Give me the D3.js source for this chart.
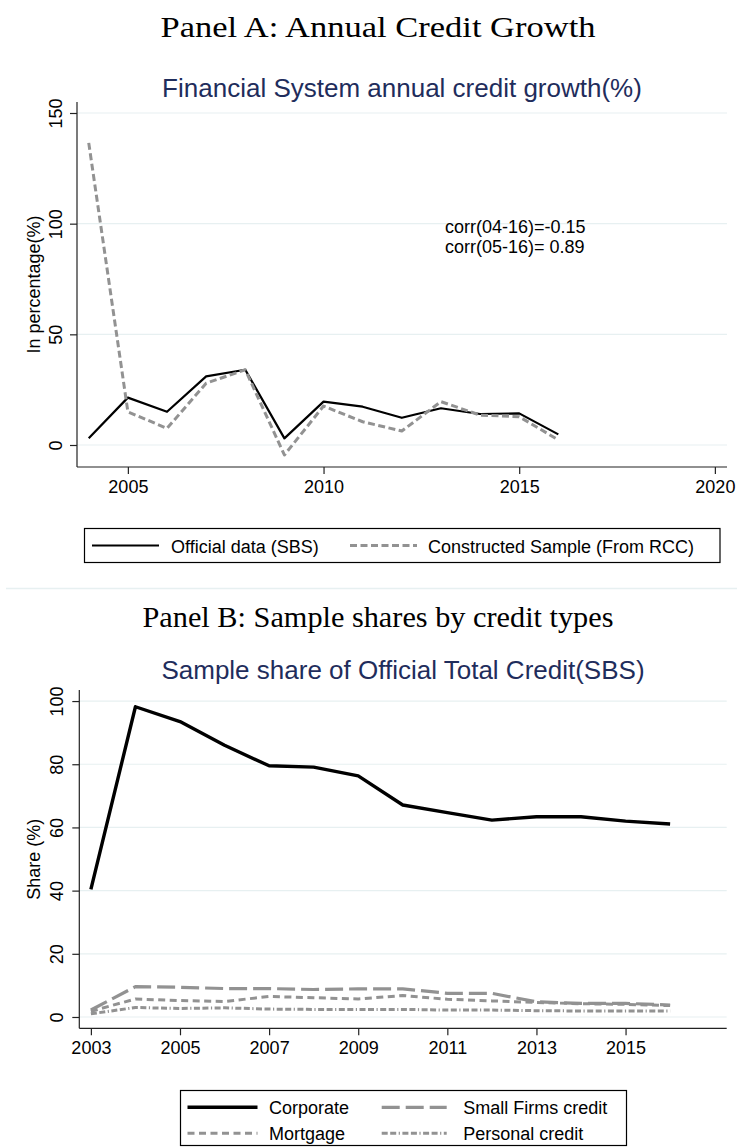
<!DOCTYPE html>
<html>
<head>
<meta charset="utf-8">
<script src="https://cdn.jsdelivr.net/npm/d3@7"></script>
<style>
  html, body { margin: 0; padding: 0; background: #fff; }
  svg { display: block; }
  text { font-family: "Liberation Sans", Arial, sans-serif; }
</style>
</head>
<body>
<svg id="chart" width="737" height="1147"></svg>
<script>
// ---------- Data ----------
const yearsA = [2004, 2005, 2006, 2007, 2008, 2009, 2010, 2011, 2012, 2013, 2014, 2015, 2016];
const officialSBS = [3.0, 21.4, 15.0, 31.0, 34.0, 3.0, 19.6, 17.3, 12.3, 16.6, 14.0, 14.3, 4.8];
const constructedRCC = [136.5, 15.0, 7.5, 27.9, 34.0, -4.5, 17.6, 10.5, 6.3, 19.6, 13.5, 12.8, 2.3];
const xTicksA = [2005, 2010, 2015, 2020];
const yTicksA = [0, 50, 100, 150];
const corrLines = ["corr(04-16)=-0.15", "corr(05-16)= 0.89"];

const yearsB = [2003, 2004, 2005, 2006, 2007, 2008, 2009, 2010, 2011, 2012, 2013, 2014, 2015, 2016];
const corporate = [40.4, 98.2, 93.5, 86.0, 79.5, 79.1, 76.3, 67.1, 64.7, 62.3, 63.4, 63.4, 62.0, 61.1];
const smallFirms = [2.2, 9.6, 9.4, 9.0, 9.0, 8.7, 8.9, 8.9, 7.5, 7.5, 4.8, 4.3, 4.3, 3.8];
const mortgage = [1.8, 5.7, 5.2, 4.9, 6.5, 6.1, 5.7, 6.8, 5.6, 5.1, 4.6, 4.2, 4.0, 3.6];
const personal = [1.0, 3.0, 2.7, 2.9, 2.5, 2.4, 2.4, 2.4, 2.2, 2.2, 2.0, 1.9, 1.9, 1.9];
const xTicksB = [2003, 2005, 2007, 2009, 2011, 2013, 2015];
const yTicksB = [0, 20, 40, 60, 80, 100];

// ---------- Styles ----------
const NAVY = "#1f2d5c";
const GRAY = "#929292";
const GRID = "#e7f0f1";
const AXIS = "#222";

const svg = d3.select("#chart");

// separator between panels
svg.append("line").attr("x1", 6).attr("x2", 737).attr("y1", 588.5).attr("y2", 588.5)
  .attr("stroke", GRID).attr("stroke-width", 1.5);

function panelTitle(text, y, width) {
  svg.append("text").attr("x", 378).attr("y", y)
    .attr("text-anchor", "middle")
    .style("font-family", "'Liberation Serif', 'DejaVu Serif', serif")
    .style("font-size", "30px").attr("fill", "#000")
    .attr("textLength", width).attr("lengthAdjust", "spacingAndGlyphs")
    .text(text);
}

function drawPanel(cfg) {
  const x = d3.scaleLinear().domain(cfg.xDomain).range([cfg.left, cfg.right]);
  const y = d3.scaleLinear().domain(cfg.yDomain).range([cfg.bottom, cfg.top]);
  const g = svg.append("g");

  // subtitle
  g.append("text").attr("x", (cfg.left + cfg.right) / 2).attr("y", cfg.subY)
    .attr("text-anchor", "middle").style("font-size", "26px").attr("fill", NAVY)
    .text(cfg.subtitle);

  // gridlines
  g.append("g").selectAll("line").data(cfg.yTicks).join("line")
    .attr("x1", cfg.left).attr("x2", cfg.right)
    .attr("y1", d => y(d)).attr("y2", d => y(d))
    .attr("stroke", GRID).attr("stroke-width", 1.2);

  // y axis
  const ya = g.append("g").attr("transform", `translate(${cfg.left},0)`)
    .call(d3.axisLeft(y).tickValues(cfg.yTicks).tickSize(7).tickFormat(d3.format("d")));
  ya.select(".domain").attr("d", `M0,${cfg.top}V${cfg.bottom}`).attr("stroke", AXIS).attr("stroke-width", 1.2);
  ya.selectAll(".tick line").attr("stroke", AXIS).attr("stroke-width", 1.2);
  ya.selectAll(".tick text")
    .attr("transform", "rotate(-90)").attr("x", 0).attr("y", cfg.yLabelOff).attr("dy", 0)
    .attr("text-anchor", "middle").style("font-size", "18px").attr("fill", "#000");

  // x axis
  const xa = g.append("g").attr("transform", `translate(0,${cfg.bottom})`)
    .call(d3.axisBottom(x).tickValues(cfg.xTicks).tickSize(7).tickFormat(d3.format("d")));
  xa.select(".domain").attr("d", `M${cfg.left},0H${cfg.right}`).attr("stroke", AXIS).attr("stroke-width", 1.2);
  xa.selectAll(".tick line").attr("stroke", AXIS).attr("stroke-width", 1.2);
  xa.selectAll(".tick text").attr("y", 25.5).attr("dy", 0)
    .style("font-size", "18px").attr("fill", "#000");

  // y axis title
  g.append("text")
    .attr("transform", `translate(40,${(cfg.top + cfg.bottom) / 2}) rotate(-90)`)
    .attr("text-anchor", "middle").style("font-size", "18px").attr("fill", "#000")
    .text(cfg.yTitle);

  // series
  const line = d3.line().x(d => x(d[0])).y(d => y(d[1]));
  cfg.series.forEach(s => {
    g.append("path").datum(cfg.years.map((yr, i) => [yr, s.values[i]]))
      .attr("d", line).attr("fill", "none")
      .attr("stroke", s.color).attr("stroke-width", s.width)
      .attr("stroke-dasharray", s.dash || null)
      .attr("stroke-linejoin", "round").attr("stroke-linecap", "butt");
  });
  return { x, y, g };
}

// ---------- Panel A ----------
panelTitle("Panel A: Annual Credit Growth", 37, 435);
const seriesA = [
  { name: "Official data (SBS)", values: officialSBS, color: "#000", width: 2.2, dash: null },
  { name: "Constructed Sample (From RCC)", values: constructedRCC, color: GRAY, width: 3, dash: "7,3.5" }
];
const pA = drawPanel({
  left: 77, right: 727, top: 102, bottom: 467,
  xDomain: [2003.70, 2020.31], yDomain: [-9.94, 154.97],
  xTicks: xTicksA, yTicks: yTicksA, years: yearsA, series: seriesA,
  subtitle: "Financial System annual credit growth(%)", subY: 97,
  yTitle: "In percentage(%)", yLabelOff: -15.5
});
pA.g.append("g").selectAll("text").data(corrLines).join("text")
  .attr("x", 445).attr("y", (d, i) => 232.5 + i * 20)
  .style("font-size", "18px").attr("fill", "#000").text(d => d);

// legend A
const legA = svg.append("g");
legA.append("rect").attr("x", 84.5).attr("y", 528.5).attr("width", 635.5).attr("height", 34)
  .attr("fill", "#fff").attr("stroke", "#000").attr("stroke-width", 1.2);
const legAItems = [
  { s: seriesA[0], x1: 92, x2: 159, tx: 171 },
  { s: seriesA[1], x1: 350, x2: 417, tx: 428 }
];
legAItems.forEach(it => {
  legA.append("line").attr("x1", it.x1).attr("x2", it.x2).attr("y1", 545.5).attr("y2", 545.5)
    .attr("stroke", it.s.color).attr("stroke-width", it.s.width).attr("stroke-dasharray", it.s.dash);
  legA.append("text").attr("x", it.tx).attr("y", 552.5).style("font-size", "18px").attr("fill", "#000").text(it.s.name);
});

// ---------- Panel B ----------
panelTitle("Panel B: Sample shares by credit types", 626.5, 471);
const seriesB = [
  { name: "Corporate", values: corporate, color: "#000", width: 3.4, dash: null },
  { name: "Small Firms credit", values: smallFirms, color: GRAY, width: 3.2, dash: "18,6" },
  { name: "Mortgage", values: mortgage, color: GRAY, width: 3, dash: "7,4.5" },
  { name: "Personal credit", values: personal, color: GRAY, width: 3, dash: "6,2.5,6,2.5,1.2,2.5" }
];
drawPanel({
  left: 79.3, right: 726.7, top: 690, bottom: 1028.3,
  xDomain: [2002.74, 2017.27], yDomain: [-3.58, 103.5],
  xTicks: xTicksB, yTicks: yTicksB, years: yearsB, series: seriesB,
  subtitle: "Sample share of Official Total Credit(SBS)", subY: 678.5,
  yTitle: "Share (%)", yLabelOff: -16
});

// legend B
const legB = svg.append("g");
legB.append("rect").attr("x", 180.5).attr("y", 1090.5).attr("width", 446).attr("height", 55)
  .attr("fill", "#fff").attr("stroke", "#000").attr("stroke-width", 1.2);
const legBPos = [
  { x1: 187.5, x2: 257.5, tx: 269, y: 1107.3 },
  { x1: 381.7, x2: 446.7, tx: 463.3, y: 1107.3 },
  { x1: 187.5, x2: 257.5, tx: 269, y: 1133.3 },
  { x1: 381.7, x2: 446.7, tx: 463.3, y: 1133.3 }
];
seriesB.forEach((s, i) => {
  const p = legBPos[i];
  legB.append("line").attr("x1", p.x1).attr("x2", p.x2).attr("y1", p.y).attr("y2", p.y)
    .attr("stroke", s.color).attr("stroke-width", s.width).attr("stroke-dasharray", s.dash);
  legB.append("text").attr("x", p.tx).attr("y", p.y + 6.3).style("font-size", "18px").attr("fill", "#000").text(s.name);
});
</script>
</body>
</html>
